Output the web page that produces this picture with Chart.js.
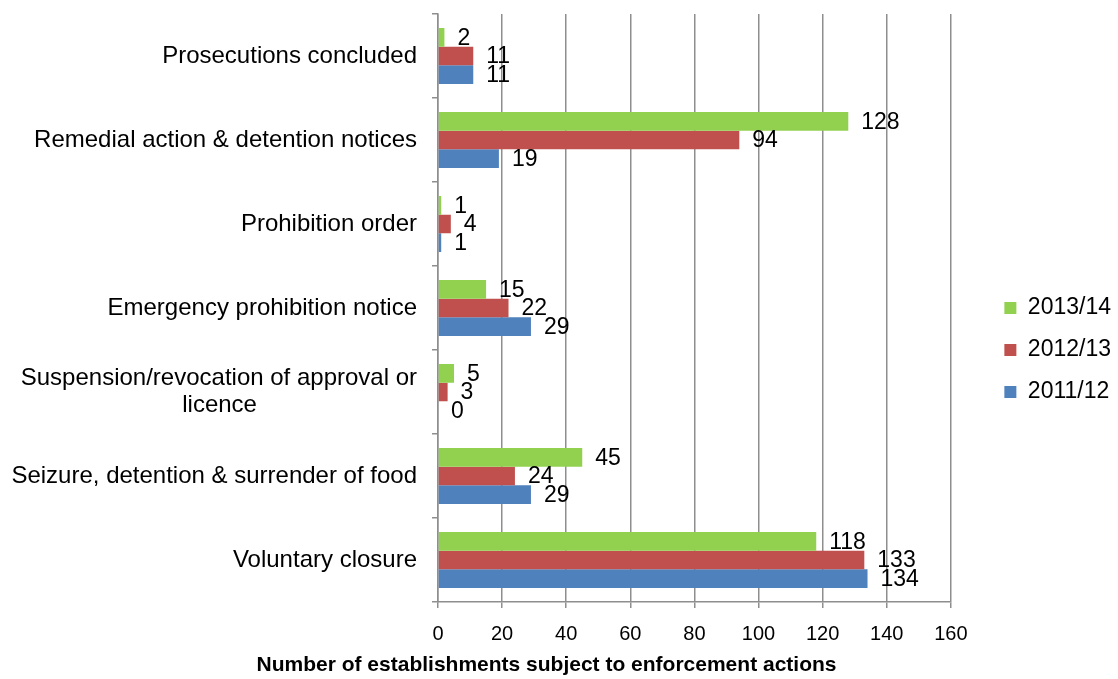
<!DOCTYPE html>
<html>
<head>
<meta charset="utf-8">
<script src="https://cdn.jsdelivr.net/npm/chart.js@4"></script>
<style>
  html, body { margin: 0; padding: 0; background: #fff; }
  #wrap { width: 1118px; height: 679px; }
</style>
</head>
<body>
<div id="wrap"><canvas id="grafico" width="1118" height="679"></canvas></div>
<script>
const categorias = [
  'Prosecutions concluded',
  'Remedial action & detention notices',
  'Prohibition order',
  'Emergency prohibition notice',
  ['Suspension/revocation of approval or', 'licence' + ' '.repeat(24)],
  'Seizure, detention & surrender of food',
  'Voluntary closure'
];
const anos = ['2013/14', '2012/13', '2011/12'];
const valores1314 = [2, 128, 1, 15, 5, 45, 118];
const valores1213 = [11, 94, 4, 22, 3, 24, 133];
const valores1112 = [11, 19, 1, 29, 0, 29, 134];
const ticksX = [0, 20, 40, 60, 80, 100, 120, 140, 160];
const cores = ['#92D050', '#C0504D', '#4F81BD'];

const fonte = "'Liberation Sans', Arial, sans-serif";
const cinza = '#8e8e8e';

Chart.defaults.font.family = fonte;
Chart.defaults.color = '#000';

// numbers at the end of each bar
const rotulosValores = {
  id: 'rotulosValores',
  afterDatasetsDraw(chart) {
    const ctx = chart.ctx;
    ctx.save();
    ctx.font = '23px ' + fonte;
    ctx.fillStyle = '#000';
    ctx.textBaseline = 'middle';
    chart.data.datasets.forEach((ds, i) => {
      chart.getDatasetMeta(i).data.forEach((barra, j) => {
        ctx.fillText(String(ds.data[j]), barra.x + 13, barra.y + 1);
      });
    });
    ctx.restore();
  }
};

const series = [valores1314, valores1213, valores1112];

new Chart(document.getElementById('grafico'), {
  type: 'bar',
  data: {
    labels: categorias,
    datasets: series.map((dados, i) => ({
      label: anos[i],
      data: dados,
      backgroundColor: cores[i],
      borderWidth: 0,
      categoryPercentage: 0.667,
      barPercentage: 1
    }))
  },
  options: {
    indexAxis: 'y',
    responsive: false,
    animation: false,
    devicePixelRatio: 1,
    layout: { padding: { top: 14, bottom: -7, left: -28, right: -3 } },
    plugins: {
      tooltip: { enabled: false },
      legend: {
        position: 'right',
        fullSize: true,
        labels: {
          boxWidth: 12,
          boxHeight: 12,
          padding: 19,
          font: { size: 23 },
          color: '#000'
        }
      },
      title: {
        display: true,
        position: 'bottom',
        fullSize: true,
        text: 'Number of establishments subject to enforcement actions',
        font: { size: 21, weight: 'bold', lineHeight: 1.2 },
        padding: { top: 4.4, bottom: 8.4 },
        color: '#000'
      }
    },
    scales: {
      x: {
        min: 0,
        max: 160,
        afterBuildTicks: (s) => { s.ticks = ticksX.map(v => ({ value: v })); },
        grid: { color: cinza, lineWidth: 1.5, tickLength: 6, drawOnChartArea: true },
        border: { color: cinza, width: 1.5 },
        ticks: { font: { size: 20 }, padding: 14, color: '#000' },
        afterFit: (s) => { s.height = 46; }
      },
      y: {
        grid: { color: cinza, lineWidth: 1.5, drawOnChartArea: false, tickLength: 6, offset: true },
        border: { color: cinza, width: 1.5 },
        ticks: { font: { size: 24, lineHeight: 1.1 }, padding: 15, color: '#000' },
        afterFit: (s) => { s.width = 466; s.paddingTop = 0; s.paddingBottom = 0; }
      },
      folga: {
        type: 'linear',
        position: 'right',
        display: true,
        grid: { display: false },
        border: { display: false },
        ticks: { display: false },
        afterFit: (s) => { s.width = 34.5; }
      }
    }
  },
  plugins: [rotulosValores]
});
</script>
</body>
</html>
